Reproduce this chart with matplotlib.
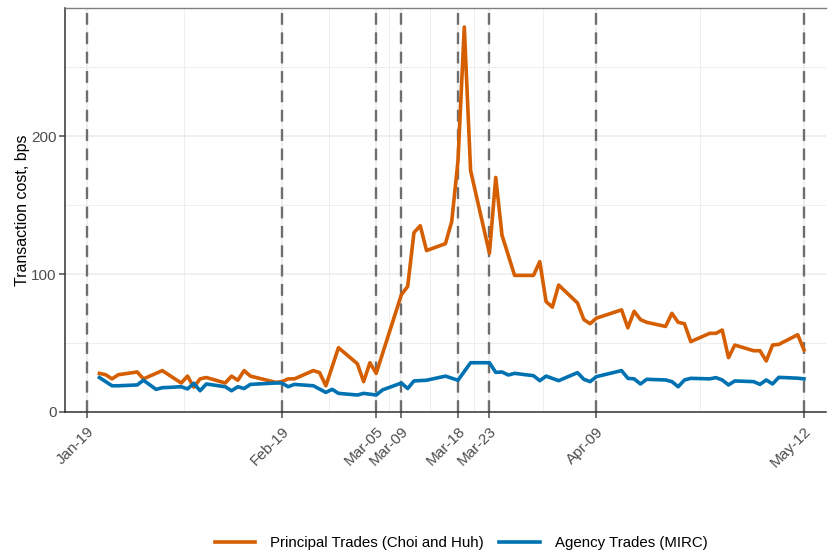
import numpy as np
import pandas as pd
import matplotlib
matplotlib.use('Agg')
import matplotlib.pyplot as plt
import matplotlib.dates as mdates

plt.rcParams['font.family'] = ['Liberation Sans', 'DejaVu Sans']

# Principal trades (Choi and Huh), bps
principal_dates = ['2020-01-21', '2020-01-22', '2020-01-23', '2020-01-24', '2020-01-27', '2020-01-28',
                   '2020-01-31', '2020-02-03', '2020-02-04', '2020-02-05', '2020-02-06', '2020-02-07',
                   '2020-02-10', '2020-02-11', '2020-02-12', '2020-02-13', '2020-02-14', '2020-02-18',
                   '2020-02-19', '2020-02-20', '2020-02-21', '2020-02-24', '2020-02-25', '2020-02-26',
                   '2020-02-28', '2020-03-02', '2020-03-03', '2020-03-04', '2020-03-05', '2020-03-09',
                   '2020-03-10', '2020-03-11', '2020-03-12', '2020-03-13', '2020-03-16', '2020-03-17',
                   '2020-03-18', '2020-03-19', '2020-03-20', '2020-03-23', '2020-03-24', '2020-03-25',
                   '2020-03-27', '2020-03-30', '2020-03-31', '2020-04-01', '2020-04-02', '2020-04-03',
                   '2020-04-06', '2020-04-07', '2020-04-08', '2020-04-09', '2020-04-13', '2020-04-14',
                   '2020-04-15', '2020-04-16', '2020-04-17', '2020-04-20', '2020-04-21', '2020-04-22',
                   '2020-04-23', '2020-04-24', '2020-04-27', '2020-04-28', '2020-04-29', '2020-04-30',
                   '2020-05-01', '2020-05-04', '2020-05-05', '2020-05-06', '2020-05-07', '2020-05-08',
                   '2020-05-11', '2020-05-12']
principal_cost = [28, 27, 24, 27, 29, 24,
                  30, 21, 26, 18, 24, 25,
                  21, 26, 23, 30, 26, 21.5,
                  22, 24, 24, 30, 28.5, 19,
                  46.6, 35, 22, 35.7, 28, 85,
                  91, 130, 135, 117, 122, 138,
                  182, 279, 175, 115, 170, 128,
                  99, 99, 109, 80, 76, 92,
                  79, 67, 64, 68, 74, 61,
                  73, 67, 65, 62, 71.5, 65,
                  64, 51, 57, 57, 59.4, 39.4,
                  48.5, 44.4, 44.4, 37, 48.5, 49,
                  56, 45]

# Agency trades (MIRC), bps
agency_dates = ['2020-01-21', '2020-01-23', '2020-01-24', '2020-01-27', '2020-01-28', '2020-01-30',
                '2020-01-31', '2020-02-03', '2020-02-04', '2020-02-05', '2020-02-06', '2020-02-07',
                '2020-02-10', '2020-02-11', '2020-02-12', '2020-02-13', '2020-02-14', '2020-02-18',
                '2020-02-19', '2020-02-20', '2020-02-21', '2020-02-24', '2020-02-26', '2020-02-27',
                '2020-02-28', '2020-03-02', '2020-03-03', '2020-03-05', '2020-03-06', '2020-03-09',
                '2020-03-10', '2020-03-11', '2020-03-13', '2020-03-16', '2020-03-18', '2020-03-20',
                '2020-03-23', '2020-03-24', '2020-03-25', '2020-03-26', '2020-03-27', '2020-03-30',
                '2020-03-31', '2020-04-01', '2020-04-03', '2020-04-06', '2020-04-07', '2020-04-08',
                '2020-04-09', '2020-04-13', '2020-04-14', '2020-04-15', '2020-04-16', '2020-04-17',
                '2020-04-20', '2020-04-21', '2020-04-22', '2020-04-23', '2020-04-24', '2020-04-27',
                '2020-04-28', '2020-04-29', '2020-04-30', '2020-05-01', '2020-05-04', '2020-05-05',
                '2020-05-06', '2020-05-07', '2020-05-08', '2020-05-11', '2020-05-12']
agency_cost = [25, 19, 19, 19.6, 23, 16.4,
               17.6, 18.3, 16.7, 20.8, 15.4, 20.3,
               18.3, 15.4, 18.3, 17, 20, 21,
               21, 18.3, 20, 19, 14.2, 16.4,
               13.5, 12.3, 13.5, 12.3, 16, 21,
               17, 22.5, 23, 26, 23, 35.7,
               35.7, 28.7, 29, 26.8, 28, 26.3,
               22.7, 26, 22.7, 28.5, 23.7, 22,
               25.6, 30, 24.4, 24, 20.3, 23.7,
               23.2, 22, 18.3, 23.2, 24.4, 24,
               24.9, 23.2, 19.6, 22.5, 22, 20,
               23.2, 20.3, 25.1, 24.5, 24]

event_dates = ['2020-01-19', '2020-02-19', '2020-03-05', '2020-03-09',
               '2020-03-18', '2020-03-23', '2020-04-09', '2020-05-12']

principal_x = pd.to_datetime(principal_dates)
agency_x = pd.to_datetime(agency_dates)
events = pd.to_datetime(event_dates)

fig = plt.figure(figsize=(8.31, 5.53), dpi=100)
ax = fig.add_axes([0.078, 0.255, 0.916, 0.731])

grid_col = '#EBEBEB'
# major grid at event ticks, minor grid halfway between
ev_num = mdates.date2num(events)
minor = (ev_num[:-1] + ev_num[1:]) / 2
for v in minor:
    ax.axvline(v, color=grid_col, lw=0.6, zorder=0)
for v in ev_num:
    ax.axvline(v, color=grid_col, lw=1.1, zorder=0)
for v in [50, 150, 250]:
    ax.axhline(v, color=grid_col, lw=0.6, zorder=0)
for v in [0, 100, 200]:
    ax.axhline(v, color=grid_col, lw=1.1, zorder=0)

for v in events:
    ax.axvline(v, color='#6E6E6E', lw=1.7, ls=(0, (5, 3.2)), zorder=1)

ax.plot(principal_x, principal_cost, color='#D55E00', lw=2.6, zorder=3,
        solid_joinstyle='round', label='Principal Trades (Choi and Huh)')
ax.plot(agency_x, agency_cost, color='#0072B2', lw=2.6, zorder=3,
        solid_joinstyle='round', label='Agency Trades (MIRC)')

ax.set_xlim(mdates.date2num(events[0]) - 3.5, mdates.date2num(events[-1]) + 3.5)
ax.set_ylim(0, 293)
ax.set_xticks(events)
ax.xaxis.set_major_formatter(mdates.DateFormatter('%b-%d'))
ax.set_yticks([0, 100, 200])
plt.setp(ax.get_xticklabels(), rotation=45, ha='right', rotation_mode='anchor')
ax.tick_params(axis='both', colors='#4D4D4D', labelsize=11, length=4, width=1.1)
ax.tick_params(axis='x', pad=5)
ax.tick_params(axis='y', pad=2)
ax.set_ylabel('Transaction cost, bps', fontsize=11.5, color='black')
ax.yaxis.set_label_coords(-0.046, 0.5)

for s in ['left', 'bottom']:
    ax.spines[s].set_color('#333333')
    ax.spines[s].set_linewidth(1.1)
ax.spines['top'].set_color('#7F7F7F')
ax.spines['top'].set_linewidth(1.0)
ax.spines['right'].set_visible(False)

fig.legend(loc='center', bbox_to_anchor=(0.555, 0.018), ncol=2, frameon=False,
           fontsize=10.8, handlelength=2.7, columnspacing=1.0, handletextpad=1.0)

fig.savefig('out.png', dpi=100)
